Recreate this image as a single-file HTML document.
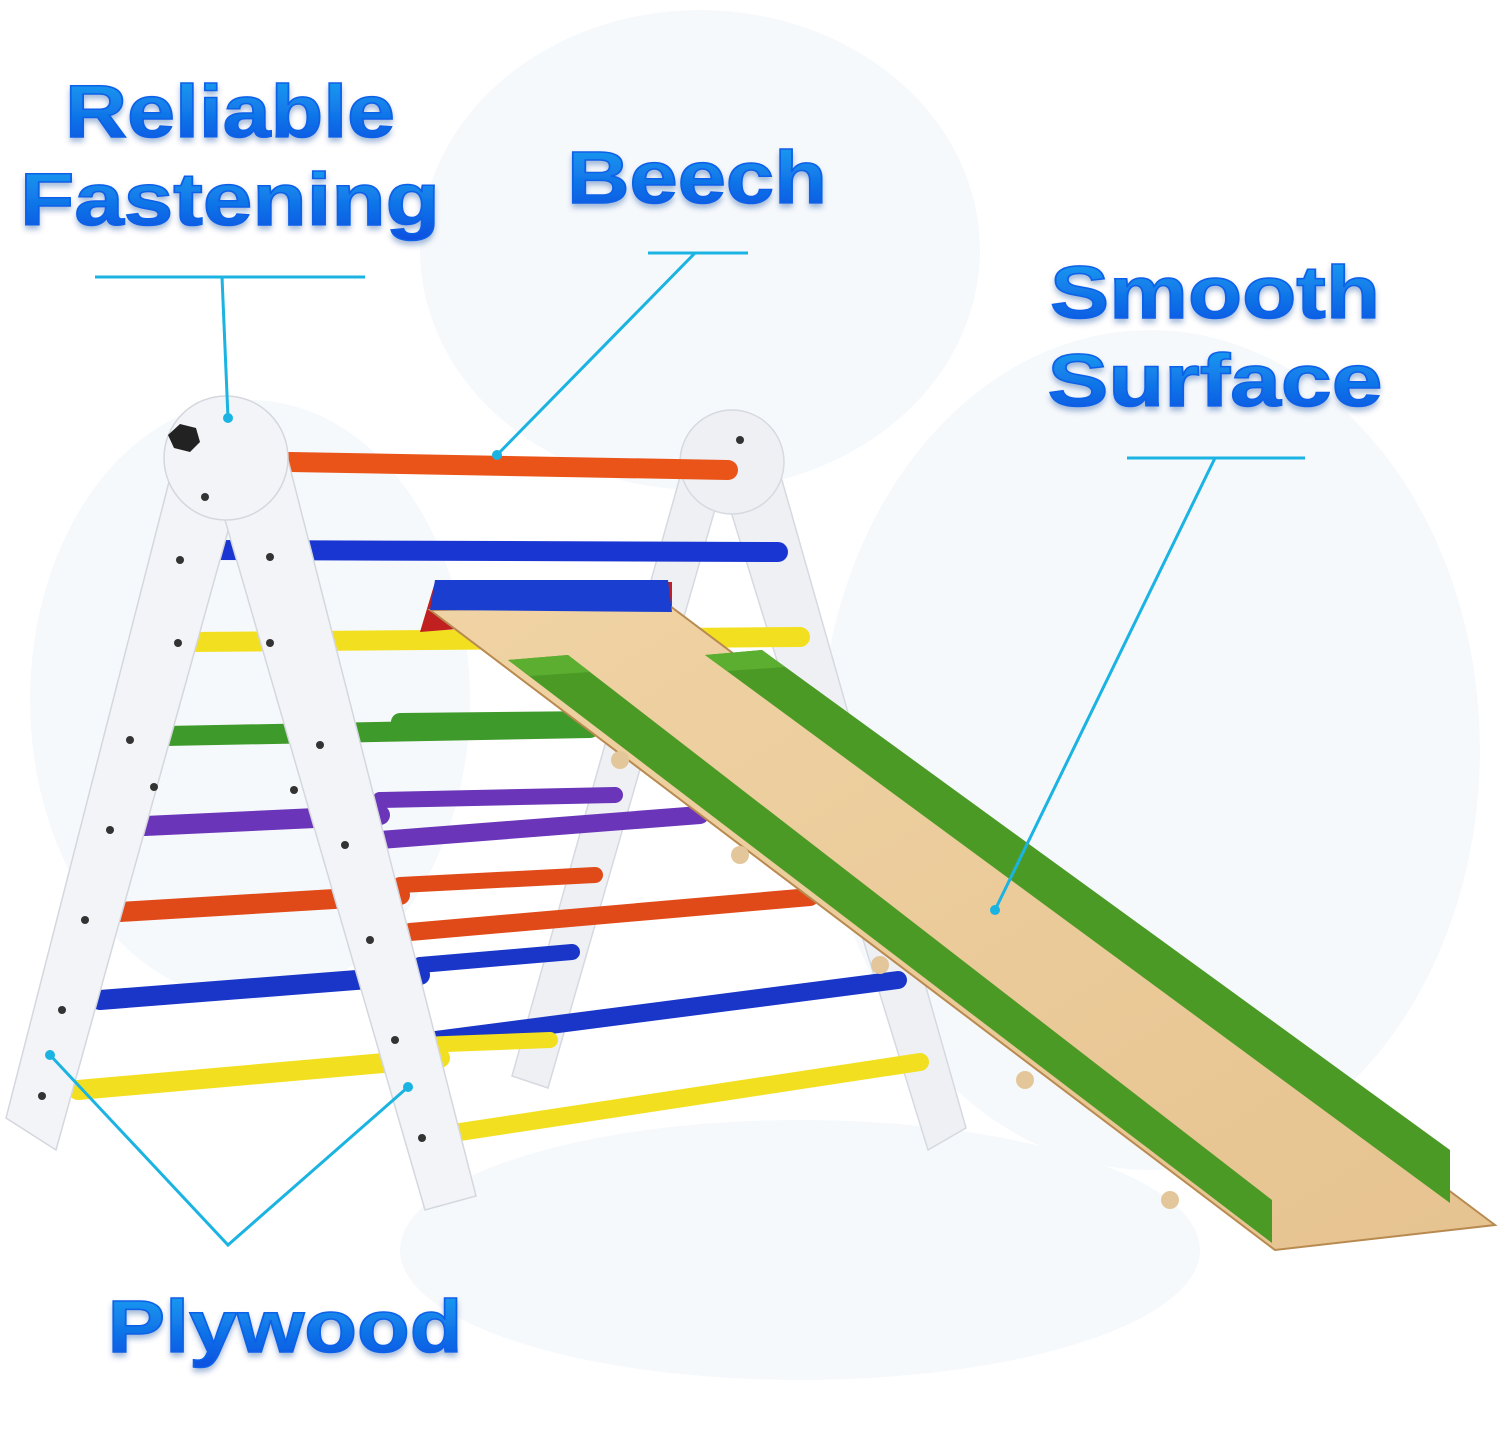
<!DOCTYPE html>
<html><head><meta charset="utf-8"><style>
html,body{margin:0;padding:0;background:#fff;}
svg{display:block}
.t{font-family:"Liberation Sans",sans-serif;font-weight:700;fill:url(#g);stroke:#1060e8;stroke-width:1.5}
</style></head><body>
<svg width="1500" height="1440" viewBox="0 0 1500 1440" xmlns="http://www.w3.org/2000/svg">
<defs>
<linearGradient id="g" x1="0" y1="0" x2="0" y2="1"><stop offset="0" stop-color="#18a4f2"/><stop offset="1" stop-color="#0b4fe0"/></linearGradient>
<linearGradient id="wood" x1="0" y1="0" x2="1" y2="1"><stop offset="0" stop-color="#f0d3a4"/><stop offset="1" stop-color="#e6c390"/></linearGradient>
<filter id="sh"><feDropShadow dx="0" dy="4" stdDeviation="3" flood-color="#0a3a90" flood-opacity="0.35"/></filter>
</defs>
<rect width="1500" height="1440" fill="#fff"/>
<g fill="#f6f9fc">
<ellipse cx="700" cy="250" rx="280" ry="240"/>
<ellipse cx="1150" cy="750" rx="330" ry="420"/>
<ellipse cx="250" cy="700" rx="220" ry="300"/>
<ellipse cx="800" cy="1250" rx="400" ry="130"/>
</g>
<!-- back frame -->
<g fill="#eef0f4" stroke="#d6d9e0" stroke-width="1.5">
<polygon points="682,470 720,492 548,1088 512,1076"/>
<polygon points="712,450 772,445 966,1128 928,1150"/>
<circle cx="732" cy="462" r="52"/>
</g>
<!-- back rung segments -->
<g stroke-linecap="round">
<line x1="400" y1="722" x2="600" y2="720" stroke="#3e9a2a" stroke-width="18"/>
<line x1="380" y1="840" x2="700" y2="815" stroke="#6a35b8" stroke-width="18"/>
<line x1="380" y1="800" x2="615" y2="795" stroke="#6a35b8" stroke-width="16"/>
<line x1="410" y1="932" x2="810" y2="897" stroke="#e04a18" stroke-width="18"/>
<line x1="400" y1="885" x2="595" y2="875" stroke="#e04a18" stroke-width="16"/>
<line x1="435" y1="1040" x2="898" y2="980" stroke="#1a36c8" stroke-width="18"/>
<line x1="420" y1="965" x2="572" y2="952" stroke="#1a36c8" stroke-width="16"/>
<line x1="460" y1="1132" x2="920" y2="1062" stroke="#f2e020" stroke-width="18"/>
<line x1="420" y1="1045" x2="550" y2="1040" stroke="#f2e020" stroke-width="16"/>
</g>
<!-- front rungs -->
<g stroke-linecap="round">
<line x1="290" y1="462" x2="728" y2="470" stroke="#ea5418" stroke-width="20"/>
<line x1="215" y1="550" x2="778" y2="552" stroke="#1a36d2" stroke-width="20"/>
<line x1="190" y1="642" x2="800" y2="637" stroke="#f2e020" stroke-width="20"/>
<line x1="165" y1="736" x2="590" y2="728" stroke="#3e9a2a" stroke-width="20"/>
<line x1="145" y1="826" x2="380" y2="815" stroke="#6a35b8" stroke-width="20"/>
<line x1="120" y1="912" x2="400" y2="895" stroke="#e04a18" stroke-width="20"/>
<line x1="100" y1="1000" x2="420" y2="975" stroke="#1a36c8" stroke-width="20"/>
<line x1="78" y1="1090" x2="440" y2="1058" stroke="#f2e020" stroke-width="20"/>
</g>
<!-- front frame -->
<g fill="#f3f4f7" stroke="#d4d7de" stroke-width="1.5">
<polygon points="172,470 238,495 56,1150 6,1118"/>
<polygon points="214,482 286,452 476,1196 425,1210"/>
<circle cx="226" cy="458" r="62"/>
</g>
<g fill="#333">
<circle cx="178" cy="643" r="4"/><circle cx="270" cy="643" r="4"/>
<circle cx="154" cy="787" r="4"/><circle cx="294" cy="790" r="4"/>
<circle cx="130" cy="740" r="4"/><circle cx="320" cy="745" r="4"/>
<circle cx="110" cy="830" r="4"/><circle cx="345" cy="845" r="4"/>
<circle cx="85" cy="920" r="4"/><circle cx="370" cy="940" r="4"/>
<circle cx="62" cy="1010" r="4"/><circle cx="395" cy="1040" r="4"/>
<circle cx="42" cy="1096" r="4"/><circle cx="422" cy="1138" r="4"/>
<circle cx="205" cy="497" r="4"/><circle cx="180" cy="560" r="4"/><circle cx="270" cy="557" r="4"/>
<circle cx="740" cy="440" r="4"/>
</g>
<polygon points="168,435 180,424 196,428 200,442 190,452 174,448" fill="#222"/>
<!-- slide -->
<polygon points="420,632 435,582 672,582 672,612" fill="#c02020"/>
<polygon points="430,610 670,606 1495,1225 1275,1250" fill="url(#wood)" stroke="#b88a50" stroke-width="2"/>
<polygon points="508,660 568,655 1272,1200 1272,1243" fill="#4c9a26"/>
<polygon points="508,660 568,655 590,672 530,676" fill="#5cae30"/>
<polygon points="705,655 762,650 1450,1150 1450,1203" fill="#4c9a26"/>
<polygon points="705,655 762,650 785,667 727,671" fill="#5cae30"/>
<polygon points="435,580 668,580 672,612 430,610" fill="#1a3fd0"/>
<g fill="#e3c79a"><circle cx="740" cy="855" r="9"/><circle cx="880" cy="965" r="9"/><circle cx="1025" cy="1080" r="9"/><circle cx="1170" cy="1200" r="9"/><circle cx="620" cy="760" r="9"/></g>
<!-- leader lines -->
<g stroke="#1ab3e2" stroke-width="3" fill="none">
<line x1="95" y1="277" x2="365" y2="277"/>
<polyline points="222,277 228,418"/>
<line x1="648" y1="253" x2="748" y2="253"/>
<line x1="695" y1="253" x2="497" y2="455"/>
<line x1="1127" y1="458" x2="1305" y2="458"/>
<line x1="1215" y1="458" x2="995" y2="910"/>
<polyline points="50,1055 228,1245 408,1087"/>
</g>
<g fill="#1ab3e2"><circle cx="228" cy="418" r="5"/><circle cx="497" cy="455" r="5"/><circle cx="995" cy="910" r="5"/><circle cx="50" cy="1055" r="5"/><circle cx="408" cy="1087" r="5"/></g>
<!-- labels -->
<g class="t" filter="url(#sh)" text-anchor="middle" font-size="74">
<text x="230" y="137" textLength="330" lengthAdjust="spacingAndGlyphs">Reliable</text>
<text x="230" y="225" textLength="420" lengthAdjust="spacingAndGlyphs">Fastening</text>
<text x="697" y="203" textLength="260" lengthAdjust="spacingAndGlyphs">Beech</text>
<text x="1215" y="318" textLength="330" lengthAdjust="spacingAndGlyphs">Smooth</text>
<text x="1215" y="406" textLength="335" lengthAdjust="spacingAndGlyphs">Surface</text>
<text x="285" y="1352" textLength="355" lengthAdjust="spacingAndGlyphs">Plywood</text>
</g>
</svg>
</body></html>
